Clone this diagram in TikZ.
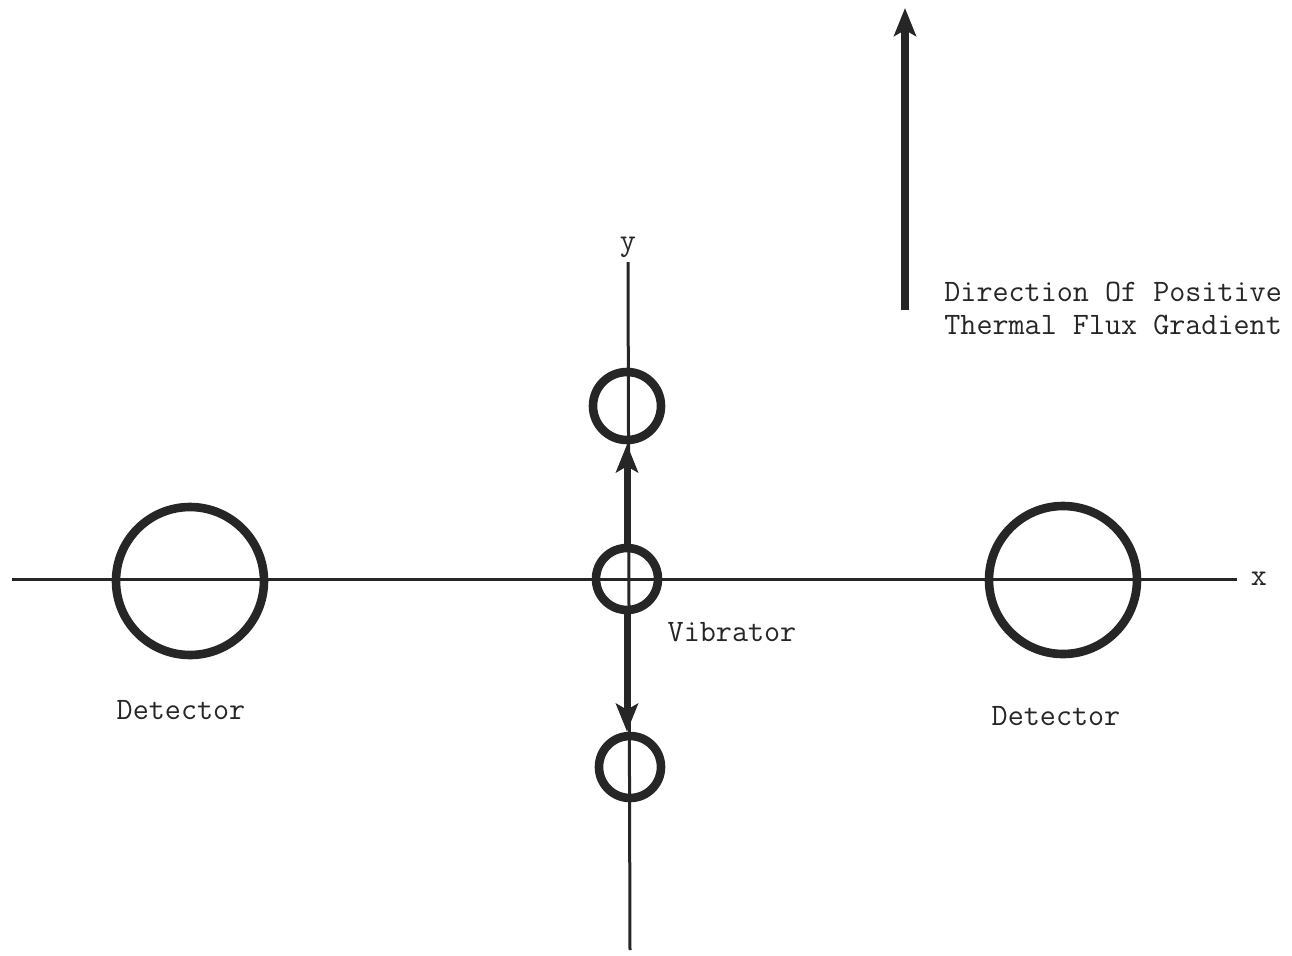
\documentclass[tikz,border=0pt]{standalone}
\usepackage{fontspec}
\usetikzlibrary{arrows.meta}
\begin{document}
\begin{tikzpicture}[x=0.5pt,y=-0.5pt,
  axis/.style={line width=1.5pt,draw=black!85},
  ring/.style={circle,draw=black!85,line width=4.3pt,inner sep=0pt},
  thick arrow/.style={line width=3.5pt,draw=black!85,-{Stealth[length=14pt,width=11pt,inset=3pt]}},
  lbl/.style={font=\ttfamily\fontsize{15.6}{16.5}\selectfont,text=black!85,inner sep=0pt}]
\useasboundingbox (0,0) rectangle (1292,955);
% axes
\coordinate (xl) at (12,579);
\coordinate (xr) at (1237,579);
\coordinate (yt) at (628,262);
\coordinate (yb) at (630,950);
\draw[axis] (xl) -- (xr);
\draw[axis] (yt) -- (yb);
\node[lbl] (xlab) at (1259,579) {x};
\node[lbl] (ylab) at (628,247) {y};
% circles
\node[ring,minimum size=74pt] (detL) at (190,581) {};
\node[ring,minimum size=74pt] (detR) at (1063,580) {};
\node[ring,minimum size=34pt] (vtop) at (627,406) {};
\node[ring,minimum size=31pt] (vmid) at (627,579) {};
\node[ring,minimum size=31pt] (vbot) at (630,767) {};
% vibration arrows
\draw[thick arrow] (vmid.north) -- (vtop.south);
\draw[thick arrow] (vmid.south) -- (vmid.south |- vbot.north);
% gradient arrow
\coordinate (gb) at (905,310);
\coordinate (gt) at (905,8);
\draw[thick arrow,line width=4pt] (gb) -- (gt);
% labels
\node[lbl] (lDL) at (181,710) {Detector};
\node[lbl] (lDR) at (1056,716) {Detector};
\node[lbl] (lV) at (732,632) {Vibrator};
\node[lbl,anchor=west,align=left] (lG) at (944,308) {Direction Of Positive\\Thermal Flux Gradient};
\end{tikzpicture}
\end{document}
